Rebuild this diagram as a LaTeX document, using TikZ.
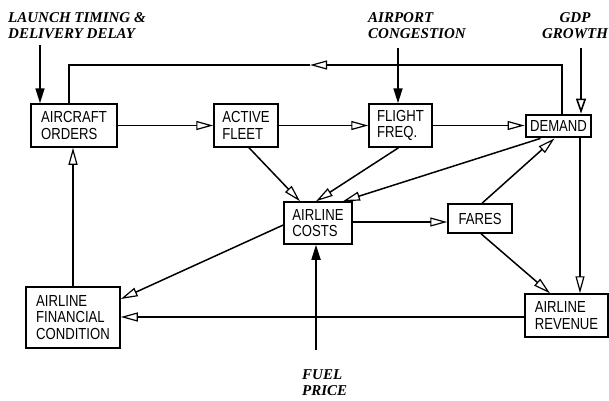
\documentclass[tikz,border=0pt]{standalone}
\usepackage{fontspec}
\setmainfont{Liberation Serif}
\newfontfamily\boxfont{Liberation Sans}[FakeStretch=0.82]
\usetikzlibrary{arrows.meta,calc}
\begin{document}
\begin{tikzpicture}[x=1pt,y=-1pt,
 box/.style={draw, line width=1.5pt, font=\boxfont\fontsize{16}{16.5}\selectfont, align=left, inner sep=0pt, anchor=center},
 lab/.style={font=\bfseries\itshape\fontsize{15}{16}\selectfont, inner sep=0pt},
 con/.style={line width=1.5pt},
 arr/.style={line width=1.5pt, -{Triangle[open,length=17pt,width=9pt,line width=1.2pt]}},
 inarr/.style={line width=1.7pt, -{Triangle[length=15pt,width=9pt]}},
 inopen/.style={line width=1.7pt, -{Triangle[open,length=15pt,width=10pt,line width=1.6pt]}},
]
\useasboundingbox[fill=white] (0,0) rectangle (609,400);

% boxes
\node[box, minimum width=86pt, minimum height=43pt] (orders) at (74,125.5) {AIRCRAFT\\ORDERS};
\node[box, minimum width=64pt, minimum height=43pt] (fleet) at (246,125.5) {ACTIVE\\FLEET};
\node[box, minimum width=63pt, minimum height=43pt] (freq) at (400.5,125.5) {FLIGHT\\FREQ.};
\node[box, line width=2.8pt, minimum width=65pt, minimum height=22pt] (demand) at (558.5,126) {DEMAND};
\node[box, minimum width=68pt, minimum height=42pt] (costs) at (318,223) {AIRLINE\\COSTS};
\node[box, minimum width=64pt, minimum height=29pt] (fares) at (480,218.5) {FARES};
\node[box, minimum width=94pt, minimum height=61pt] (fin) at (73,317.5) {AIRLINE\\FINANCIAL\\CONDITION};
\node[box, minimum width=83pt, minimum height=43pt] (rev) at (566.5,315.5) {AIRLINE\\REVENUE};

% external labels
\node[lab, anchor=north west, align=left] (launch) at (8,12) {LAUNCH TIMING \&\\DELIVERY DELAY};
\node[lab, anchor=north west, align=left] (airport) at (368,12) {AIRPORT\\CONGESTION};
\node[lab, anchor=north, align=center] (gdp) at (575,12) {GDP\\GROWTH};
\node[lab, anchor=north west, align=left] (fuel) at (302,369) {FUEL\\PRICE};

% input arrows
\coordinate (launchS) at (40,45);
\draw[inarr] (launchS) -- (launchS |- orders.north);
\coordinate (airS) at (398,48);
\draw[inarr] (airS) -- (airS |- freq.north);
\coordinate (gdpS) at (581,48);
\draw[inopen] (gdpS) -- (gdpS |- demand.north);
\coordinate (fuelS) at (316,350);
\draw[inarr] (fuelS) -- (fuelS |- costs.south);

% feedback loop demand -> orders
\coordinate (fbR) at (562,65);
\coordinate (fbM) at (310,65);
\coordinate (fbL) at (69,65);
\draw[arr] (demand.north -| fbR) -- (fbR) -- (fbM);
\draw[con] (fbM) -- (fbL) -- (fbL |- orders.north);

% main chain
\draw[arr] (orders) -- (fleet);
\draw[arr] (fleet) -- (freq);
\draw[arr] (freq.east) -- (freq.east -| demand.west);

% to costs
\draw[arr] ([xshift=3pt]fleet.south) -- ([xshift=-18pt]costs.north);
\draw[arr] ([xshift=-2pt]freq.south) -- ([xshift=-2pt]costs.north);
\draw[arr] ([xshift=-18pt]demand.south) -- ([xshift=25pt]costs.north);

% costs -> fares, fares -> demand, fares -> revenue, demand -> revenue
\draw[arr] ([yshift=1pt]costs.east) -- ([yshift=1pt]costs.east -| fares.west);
\draw[arr] ([xshift=2pt]fares.north) -- ([xshift=-4pt]demand.south);
\draw[arr] ([xshift=1pt]fares.south) -- ([xshift=-16.5pt]rev.north);
\draw[arr] ([xshift=21.5pt]demand.south) -- ([xshift=21.5pt]demand.south |- rev.north);

% to financial condition
\draw[arr] ([yshift=-2pt]costs.west) -- ([yshift=18.5pt]fin.east);
\draw[arr] ([yshift=-1.5pt]rev.west) -- ([yshift=-1.5pt]rev.west -| fin.east);
\draw[arr] (fin.north) -- (fin.north |- orders.south);
\end{tikzpicture}
\end{document}
